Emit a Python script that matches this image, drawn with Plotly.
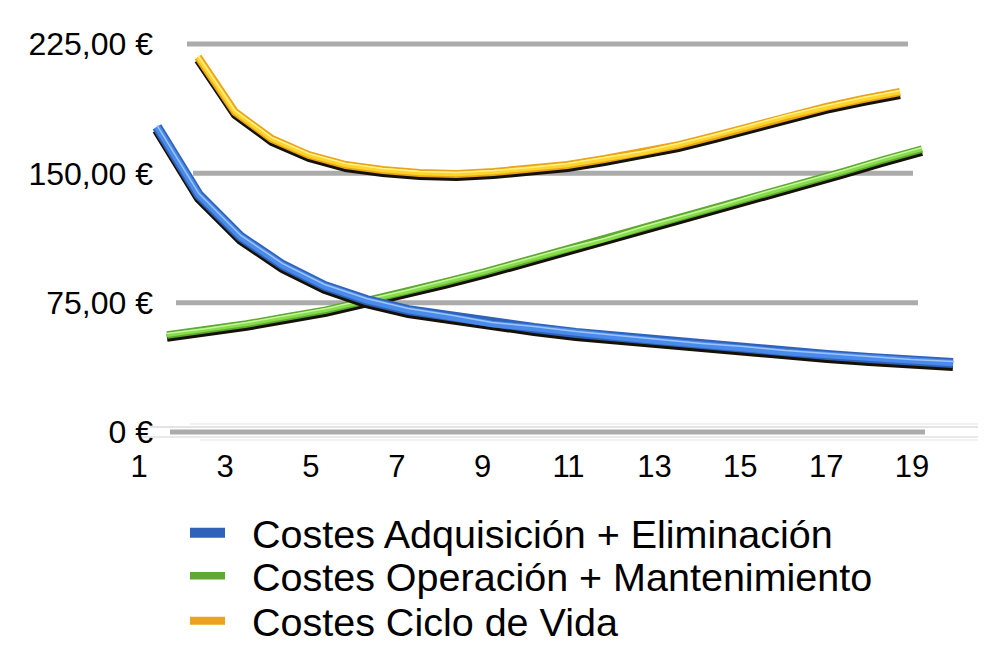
import plotly.graph_objects as go

# ---------------- data ----------------
years = list(range(1, 21))
costes_adq_elim = [177.0, 137.4, 113.1, 96.8, 84.7, 76.5, 70.7, 67.0, 62.6, 60.3,
                   57.4, 55.1, 52.8, 50.5, 48.7, 46.4, 44.7, 42.9, 41.2, 40.0]
costes_oper_mant = [56.3, 59.2, 62.6, 66.7, 70.7, 76.0, 81.2, 87.0, 92.8, 99.2,
                    105.5, 111.3, 118.3, 124.7, 131.1, 138.0, 144.4, 150.8, 157.7, 164.1]
costes_ciclo_vida = [217.5, 185.6, 169.9, 160.6, 154.8, 151.9, 150.2, 149.6, 150.8, 152.5,
                     154.8, 158.3, 161.8, 166.4, 171.7, 177.5, 183.3, 188.5, 193.1, 197.2]
series_names = ["Costes Adquisición + Eliminación",
                "Costes Operación + Mantenimiento",
                "Costes Ciclo de Vida"]
x_tick_vals = [1, 3, 5, 7, 9, 11, 13, 15, 17, 19]
x_tick_text = ["1", "3", "5", "7", "9", "11", "13", "15", "17", "19"]
y_tick_vals = [0, 75, 150, 225]
y_tick_text = ["0 €", "75,00 €", "150,00 €", "225,00 €"]

# ---------------- layout geometry (screen pixels) ----------------
OFF = 8                      # page body margin
WS, HS = 986, 669            # screen
Wf, Hf = WS - OFF, HS - OFF  # figure size
L, R, T, B = 120, 962, 30, 445
K = 1.7244                   # px per unit on y
Y0 = 432                     # screen pixel of value 0 for line bodies

def yrange(c):
    return [(c - B) / K, (c - T) / K]

def xrange_for(p_start, p_end, n=20):
    b = (p_end - p_start) / (n - 1)
    return [1 + (L - p_start) / b, 1 + (R - p_start) / b]

X3, X19 = 225, 912
kx = (X19 - X3) / 16
main_xrange = [3 + (L - X3) / kx, 3 + (R - X3) / kx]

FONT = "Liberation Sans, Arial, Helvetica, sans-serif"
NB = "\u00a0\u00a0"

fig = go.Figure()

specs = [
    (costes_ciclo_vida, "x2", "#E9A41C", "#FFD52A", "#FFF08A", "legend3", 3, 8),
    (costes_oper_mant, "x3", "#5FA832", "#86DD4A", "#C4F59A", "legend2", 2, 7.5),
    (costes_adq_elim, "x4", "#2F62B8", "#4A8BEA", "#9CC4FA", "legend", 1, 10),
]

for vals, xa, edge, body, hl, lg, rank, wd in specs:
    name = series_names[rank - 1]
    fig.add_trace(go.Scatter(x=years, y=vals, mode="lines", xaxis=xa, yaxis="y",
                             line=dict(color="#161106", width=wd),
                             showlegend=False, hoverinfo="skip"))
    fig.add_trace(go.Scatter(x=years, y=vals, mode="lines", xaxis=xa, yaxis="y2",
                             line=dict(color=edge, width=wd), name=NB + name,
                             legend=lg, legendrank=rank, showlegend=True))
    fig.add_trace(go.Scatter(x=years, y=vals, mode="lines", xaxis=xa, yaxis="y2",
                             line=dict(color=body, width=wd - 3.5),
                             showlegend=False, hoverinfo="skip"))
    fig.add_trace(go.Scatter(x=years, y=vals, mode="lines", xaxis=xa, yaxis="y3",
                             line=dict(color=hl, width=1.5),
                             showlegend=False, hoverinfo="skip"))

def px2x(p):
    return 3 + (p - X3) / kx

grid_extents = {225: (187, 908), 150: (193, 913), 75: (176, 918), 0: (170, 925)}
shapes = []
for dy, col, x0p in [(-5, "#e4e4e4", 150), (5, "#e9e9e9", 140), (-8, "#f1f1f1", 190), (8, "#f2f2f2", 200)]:
    shapes.append(dict(type="line", xref="paper", yref="paper",
                       x0=(x0p - L) / (R - L), x1=(WS - L) / (R - L),
                       y0=(B - (Y0 + dy)) / (B - T), y1=(B - (Y0 + dy)) / (B - T),
                       line=dict(color=col, width=2), layer="below"))
for v, (p0, p1) in grid_extents.items():
    shapes.append(dict(type="line", xref="x", yref="y2", x0=px2x(p0), x1=px2x(p1),
                       y0=v, y1=v, line=dict(color="#ABABAB", width=5), layer="below"))

legend_common = dict(font=dict(family=FONT, size=39.5, color="#000000"),
                     bgcolor="rgba(0,0,0,0)", borderwidth=0,
                     xanchor="left", yanchor="middle", itemwidth=35,
                     xref="container", yref="container",
                     x=(185 - OFF) / Wf)

def ly(p):
    return (Hf - (p - OFF)) / Hf

fig.update_layout(
    width=Wf, height=Hf, autosize=False,
    margin=dict(l=L - OFF, r=Wf - (R - OFF), t=T - OFF, b=Hf - (B - OFF),
                pad=0, autoexpand=False),
    paper_bgcolor="white", plot_bgcolor="rgba(0,0,0,0)",
    showlegend=True,
    xaxis=dict(range=main_xrange, tickvals=x_tick_vals, ticktext=x_tick_text,
               showgrid=False, zeroline=False, showline=False, ticks="",
               tickfont=dict(family=FONT, size=31, color="#000"),
               automargin=False, fixedrange=True),
    xaxis2=dict(range=xrange_for(198, 900), overlaying="x", visible=False),
    xaxis3=dict(range=xrange_for(167, 922), overlaying="x", visible=False),
    xaxis4=dict(range=xrange_for(157, 953), overlaying="x", visible=False),
    yaxis=dict(range=yrange(Y0 + 3), visible=False),
    yaxis2=dict(range=yrange(Y0), overlaying="y", anchor="free",
                position=(153 - L) / (R - L), automargin=False,
                tickvals=y_tick_vals, ticktext=y_tick_text, showgrid=False,
                zeroline=False, showline=False, ticks="",
                tickfont=dict(family=FONT, size=32, color="#000")),
    yaxis3=dict(range=yrange(Y0 - 1.5), overlaying="y", visible=False),
    shapes=shapes,
    legend=dict(**legend_common, y=ly(533)),
    legend2=dict(**legend_common, y=ly(576)),
    legend3=dict(**legend_common, y=ly(621)),
)

fig.write_html("out.html")
